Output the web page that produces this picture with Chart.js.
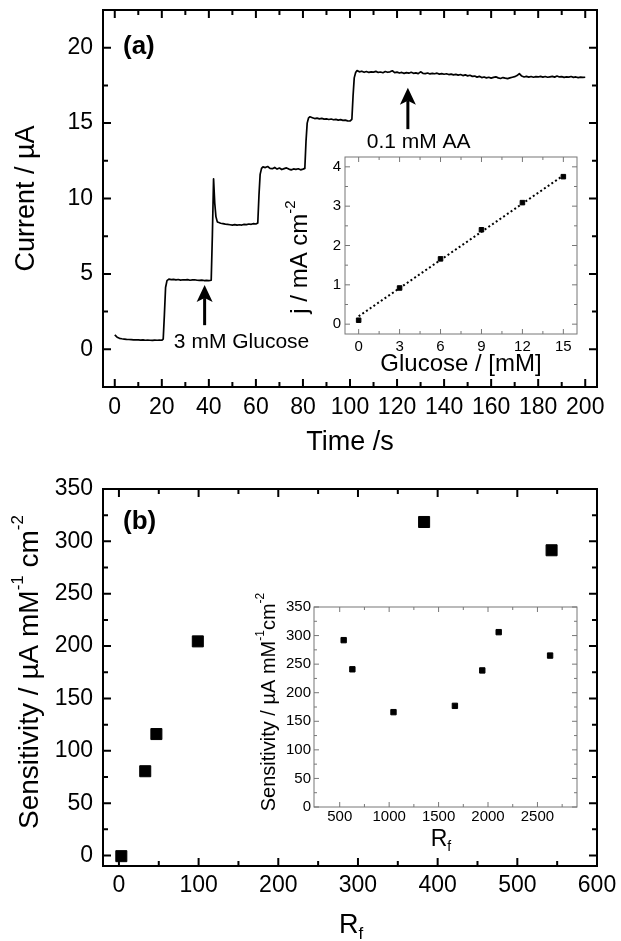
<!DOCTYPE html>
<html>
<head>
<meta charset="utf-8">
<script src="https://cdn.jsdelivr.net/npm/chart.js@4.4.0/dist/chart.umd.min.js"></script>
<style>
body { margin: 0; background: #fff; }
#wrap { position: relative; width: 621px; height: 941px; overflow: hidden; background: #fff; }
canvas { position: absolute; }
</style>
</head>
<body>
<div id="wrap">
  <canvas id="mainA" width="621" height="470" style="left:0px;top:0px"></canvas>
  <canvas id="insetA" width="310" height="235" style="left:280px;top:150px"></canvas>
  <canvas id="mainB" width="621" height="471" style="left:0px;top:470px"></canvas>
  <canvas id="insetB" width="360" height="280" style="left:230px;top:580px"></canvas>
</div>
<script>
// (a) amperometric response
const timeS = [0,1,2,3,4,5,6,7,8,9,10,11,12,13,14,15,16,17,18,19,20,
  20.6,21.1,21.6,22.2,23,24,25,26,27,28,29,30,31,32,33,34,35,36,37,38,39,40,41,
  41.5,42,42.5,43,43.6,44,45,46,47,48,49,50,51,52,53,54,55,56,57,58,59,60,60.8,
  61.3,61.8,62.4,63,64,65,66,67,68,69,70,71,72,73,74,75,76,77,78,79,80,80.8,
  81.3,81.8,82.4,83,84,85,86,87,88,89,90,91,92,93,94,95,96,97,98,99,100,100.8,
  101.3,101.8,102.4,103,104,105,106,107,108,109,110,111,112,113,114,115,116,117,118,119,120,
  121,122,123,124,125,126,127,128,129,130,131,132,133,134,135,136,137,138,139,140,
  141,142,143,144,145,146,147,148,149,150,151,152,153,154,155,156,157,158,159,160,
  161,162,163,164,165,166,167,168,169,170,171,172,173,174,175,176,177,178,179,180,
  181,182,183,184,185,186,187,188,189,190,191,192,193,194,195,196,197,198,199,200];
const currentUA = [0.95,0.80,0.73,0.70,0.68,0.66,0.65,0.64,0.63,0.63,0.62,0.61,0.62,0.60,0.61,0.60,0.59,0.61,0.60,0.61,0.60,
  0.68,2.3,4.1,4.55,4.65,4.62,4.64,4.60,4.63,4.59,4.61,4.60,4.62,4.58,4.60,4.61,4.58,4.57,4.59,4.56,4.57,4.56,4.58,
  7.6,11.3,9.7,8.8,8.45,8.42,8.36,8.33,8.30,8.28,8.26,8.24,8.27,8.23,8.26,8.24,8.28,8.27,8.31,8.29,8.33,8.31,8.38,
  10.2,11.6,12.0,12.1,12.05,12.12,12.0,11.98,12.06,11.95,12.02,11.92,11.98,12.03,11.95,11.9,11.96,11.93,11.97,11.9,11.95,12.0,
  13.8,15.0,15.35,15.42,15.36,15.3,15.33,15.28,15.31,15.26,15.28,15.24,15.27,15.22,15.25,15.2,15.23,15.18,15.2,15.15,15.14,15.25,
  16.8,18.0,18.35,18.48,18.4,18.44,18.37,18.42,18.36,18.4,18.38,18.43,18.36,18.39,18.34,18.42,18.37,18.4,18.47,18.35,18.38,
  18.32,18.36,18.3,18.35,18.31,18.37,18.3,18.33,18.28,18.4,18.3,18.28,18.32,18.26,18.3,18.27,18.31,18.25,18.28,18.24,
  18.27,18.22,18.25,18.2,18.23,18.18,18.22,18.15,18.2,18.13,18.17,18.1,18.12,18.05,18.1,18.02,18.06,18.0,18.04,17.98,
  18.03,18.07,18.0,17.96,18.02,17.98,17.95,18.0,18.04,18.08,18.15,18.28,18.12,18.06,18.1,18.05,18.09,18.04,18.08,18.06,
  18.1,18.05,18.09,18.04,18.07,18.1,18.05,18.12,18.06,18.08,18.03,18.07,18.05,18.09,18.03,18.06,18.02,18.05,18.03,18.04];

// (a) inset: calibration
const glucoseMM = [0, 3, 6, 9, 12, 15];
const currentDensity = [0.10, 0.92, 1.66, 2.40, 3.09, 3.75];
const fitGlucose = [0, 15];
const fitDensity = [0.2, 3.78];

// (a) annotations (data units)
const arrowTime = [38.2, 124.6];
const arrowFrom = [1.6, 14.6];
const arrowTo = [4.26, 17.35];
const noteText = ['3 mM Glucose', '0.1 mM AA'];
const noteTime = [53.9, 129.2];
const noteCurrent = [0.44, 13.75];

// (b) sensitivity vs roughness factor
const rfMain = [3, 33, 47, 99, 383, 543];
const sensMain = [-0.6, 80.5, 116, 204.5, 318.5, 291.5];
const rfInset = [540, 628, 1044, 1665, 1942, 2108, 2628];
const sensInset = [292, 241, 166, 177, 239, 306, 265];

// tick values
const ticksTime = [0, 20, 40, 60, 80, 100, 120, 140, 160, 180, 200];
const minorTime = [10, 30, 50, 70, 90, 110, 130, 150, 170, 190];
const ticksCurrent = [0, 5, 10, 15, 20];
const minorCurrent = [2.5, 7.5, 12.5, 17.5];
const ticksGlucose = [0, 3, 6, 9, 12, 15];
const minorGlucose = [1.5, 4.5, 7.5, 10.5, 13.5];
const ticksJ = [0, 1, 2, 3, 4];
const minorJ = [0.5, 1.5, 2.5, 3.5];
const ticksRf = [0, 100, 200, 300, 400, 500, 600];
const minorRf = [50, 150, 250, 350, 450, 550];
const ticksSens = [0, 50, 100, 150, 200, 250, 300, 350];
const minorSens = [25, 75, 125, 175, 225, 275, 325];
const ticksRfInset = [500, 1000, 1500, 2000, 2500];
const minorRfInset = [750, 1250, 1750, 2250, 2750];

const FONT = '"Liberation Sans", Arial, Helvetica, sans-serif';
Chart.defaults.font.family = FONT;
Chart.defaults.color = '#000';

function axis(pos, min, max, vals, size, pad, fixed, title) {
  return {
    type: 'linear', position: pos, min: min, max: max,
    grid: { display: false, drawTicks: false },
    border: { display: false },
    ticks: { color: '#000', font: { size: size }, padding: pad, autoSkip: false, maxRotation: 0, minRotation: 0,
             callback: v => String(v) },
    title: title || { display: false },
    afterBuildTicks: s => { s.ticks = vals.map(v => ({ value: v })); },
    afterFit: s => {
      if (pos === 'bottom') s.height = fixed; else s.width = fixed;
      s.paddingLeft = s.paddingRight = s.paddingTop = s.paddingBottom = 0;
    }
  };
}

function frame(o) {
  return {
    id: 'frame',
    afterDraw(chart) {
      const { ctx, chartArea: a, scales: { x, y } } = chart;
      ctx.save();
      ctx.strokeStyle = o.color;
      ctx.lineWidth = o.width;
      ctx.strokeRect(a.left, a.top, a.right - a.left, a.bottom - a.top);
      ctx.beginPath();
      const hx = (vals, len) => vals.forEach(v => {
        const p = x.getPixelForValue(v);
        ctx.moveTo(p, a.bottom); ctx.lineTo(p, a.bottom - len);
        ctx.moveTo(p, a.top); ctx.lineTo(p, a.top + len);
      });
      const vy = (vals, len) => vals.forEach(v => {
        const p = y.getPixelForValue(v);
        ctx.moveTo(a.left, p); ctx.lineTo(a.left + len, p);
        ctx.moveTo(a.right, p); ctx.lineTo(a.right - len, p);
      });
      hx(o.xMajor, o.major); hx(o.xMinor, o.minor);
      vy(o.yMajor, o.major); vy(o.yMinor, o.minor);
      ctx.stroke();
      ctx.restore();
    }
  };
}

function drawRich(ctx, parts, cx, cy, size, vertical) {
  ctx.save();
  ctx.translate(cx, cy);
  if (vertical) ctx.rotate(-Math.PI / 2);
  ctx.fillStyle = '#000';
  ctx.textBaseline = 'middle';
  ctx.textAlign = 'left';
  const fontOf = p => (p.sup || p.sub ? Math.round(size * 0.62) : size) + 'px ' + FONT;
  let total = 0;
  const w = parts.map(p => { ctx.font = fontOf(p); const m = ctx.measureText(p.t).width; total += m; return m; });
  let xx = -total / 2;
  parts.forEach((p, i) => {
    ctx.font = fontOf(p);
    const dy = p.sup ? -size * 0.4 : (p.sub ? size * 0.32 : 0);
    ctx.fillText(p.t, xx, dy);
    xx += w[i];
  });
  ctx.restore();
}

function richTitles(list) {
  return { id: 'richTitles', afterDraw(chart) { list.forEach(r => drawRich(chart.ctx, r.parts, r.x, r.y, r.size, r.vertical)); } };
}

function drawArrow(ctx, px, y0, y1) {
  const head = 17, half = 8;
  ctx.save();
  ctx.strokeStyle = '#000'; ctx.fillStyle = '#000'; ctx.lineWidth = 3;
  ctx.beginPath(); ctx.moveTo(px, y0); ctx.lineTo(px, y1 + head - 4); ctx.stroke();
  ctx.beginPath();
  ctx.moveTo(px, y1); ctx.lineTo(px - half, y1 + head); ctx.lineTo(px, y1 + head - 4); ctx.lineTo(px + half, y1 + head);
  ctx.closePath(); ctx.fill();
  ctx.restore();
}

const annotA = {
  id: 'annotA',
  afterDraw(chart) {
    const { ctx, scales: { x, y } } = chart;
    arrowTime.forEach((t, i) => drawArrow(ctx, x.getPixelForValue(t), y.getPixelForValue(arrowFrom[i]), y.getPixelForValue(arrowTo[i])));
    ctx.save();
    ctx.fillStyle = '#000';
    ctx.font = '21px ' + FONT; ctx.textAlign = 'center'; ctx.textBaseline = 'middle';
    noteText.forEach((s, i) => ctx.fillText(s, x.getPixelForValue(noteTime[i]), y.getPixelForValue(noteCurrent[i])));
    ctx.font = 'bold 26px ' + FONT; ctx.textAlign = 'left';
    ctx.fillText('(a)', 123, 47);
    ctx.restore();
  }
};

const labelB = {
  id: 'labelB',
  afterDraw(chart) {
    const ctx = chart.ctx;
    ctx.save();
    ctx.fillStyle = '#000'; ctx.font = 'bold 26px ' + FONT; ctx.textBaseline = 'middle'; ctx.textAlign = 'left';
    ctx.fillText('(b)', 123, 52);
    ctx.restore();
  }
};

const base = {
  responsive: false, animation: false, devicePixelRatio: 1,
  plugins: { legend: { display: false }, tooltip: { enabled: false } }
};

// panel (a)
new Chart(document.getElementById('mainA'), {
  type: 'scatter',
  data: { datasets: [{
    data: timeS.map((t, i) => ({ x: t, y: currentUA[i] })),
    showLine: true, borderColor: '#000', borderWidth: 1.7, pointRadius: 0, tension: 0, borderJoinStyle: 'round'
  }] },
  options: Object.assign({}, base, {
    layout: { padding: { top: 10, right: 24, left: 0, bottom: 0 } },
    scales: {
      x: axis('bottom', -5, 205, ticksTime, 23, 7, 83,
        { display: true, text: 'Time /s', font: { size: 27 }, padding: { top: 0, bottom: 11 }, color: '#000' }),
      y: axis('left', -2.5, 22.5, ticksCurrent, 23, 10, 103,
        { display: true, text: 'Current / \u00b5A', font: { size: 27 }, padding: { top: 10, bottom: 0 }, color: '#000' })
    }
  }),
  plugins: [frame({ color: '#000', width: 2, major: 8, minor: 5,
    xMajor: ticksTime, xMinor: minorTime, yMajor: ticksCurrent, yMinor: minorCurrent }), annotA]
});

// inset of (a)
new Chart(document.getElementById('insetA'), {
  type: 'scatter',
  data: { datasets: [
    { data: glucoseMM.map((g, i) => ({ x: g, y: currentDensity[i] })), pointStyle: 'rect', pointRadius: 3.2,
      backgroundColor: '#000', borderColor: '#000', borderWidth: 1, showLine: false },
    { data: fitGlucose.map((g, i) => ({ x: g, y: fitDensity[i] })), showLine: true, pointRadius: 0,
      borderColor: '#000', borderWidth: 2, borderDash: [2, 2.5] }
  ] },
  options: Object.assign({}, base, {
    layout: { padding: { top: 7, right: 13, left: 0, bottom: 0 } },
    scales: {
      x: axis('bottom', -1, 16, ticksGlucose, 15, 4, 51,
        { display: true, text: 'Glucose / [mM]', font: { size: 24 }, padding: { top: 0, bottom: 6 }, color: '#000' }),
      y: axis('left', -0.25, 4.25, ticksJ, 15, 4, 65)
    }
  }),
  plugins: [frame({ color: '#777', width: 1, major: 5, minor: 3,
    xMajor: ticksGlucose, xMinor: minorGlucose, yMajor: ticksJ, yMinor: minorJ }),
    richTitles([{ parts: [{ t: 'j / mA cm' }, { t: '-2', sup: true }], x: 20, y: 107, size: 24, vertical: true }])]
});

// panel (b)
new Chart(document.getElementById('mainB'), {
  type: 'scatter',
  data: { datasets: [{
    data: rfMain.map((r, i) => ({ x: r, y: sensMain[i] })), pointStyle: 'rect', pointRadius: 7.8,
    backgroundColor: '#000', borderColor: '#000', borderWidth: 1
  }] },
  options: Object.assign({}, base, {
    layout: { padding: { top: 19, right: 24, left: 0, bottom: 0 } },
    scales: {
      x: axis('bottom', -20, 600, ticksRf, 23, 6, 75),
      y: axis('left', -10, 350, ticksSens, 23, 10, 103)
    }
  }),
  plugins: [frame({ color: '#000', width: 2, major: 8, minor: 5,
    xMajor: ticksRf, xMinor: minorRf, yMajor: ticksSens, yMinor: minorSens }), labelB,
    richTitles([
      { parts: [{ t: 'Sensitivity / \u00b5A mM' }, { t: '-1', sup: true }, { t: ' cm' }, { t: '-2', sup: true }], x: 30, y: 202, size: 28, vertical: true },
      { parts: [{ t: 'R' }, { t: 'f', sub: true }], x: 351, y: 456, size: 27, vertical: false }
    ])]
});

// inset of (b)
new Chart(document.getElementById('insetB'), {
  type: 'scatter',
  data: { datasets: [{
    data: rfInset.map((r, i) => ({ x: r, y: sensInset[i] })), pointStyle: 'rect', pointRadius: 3.8,
    backgroundColor: '#000', borderColor: '#000', borderWidth: 1
  }] },
  options: Object.assign({}, base, {
    layout: { padding: { top: 27, right: 13, left: 0, bottom: 0 } },
    scales: {
      x: axis('bottom', 240, 2900, ticksRfInset, 15, 1, 53),
      y: axis('left', 0, 350, ticksSens, 15, 3, 84)
    }
  }),
  plugins: [frame({ color: '#777', width: 1, major: 5, minor: 3,
    xMajor: ticksRfInset, xMinor: minorRfInset, yMajor: ticksSens, yMinor: minorSens }),
    richTitles([
      { parts: [{ t: 'Sensitivity / \u00b5A mM' }, { t: '-1', sup: true }, { t: 'cm' }, { t: '-2', sup: true }], x: 39, y: 122, size: 20, vertical: true },
      { parts: [{ t: 'R' }, { t: 'f', sub: true }], x: 211, y: 260, size: 23, vertical: false }
    ])]
});
</script>
</body>
</html>
